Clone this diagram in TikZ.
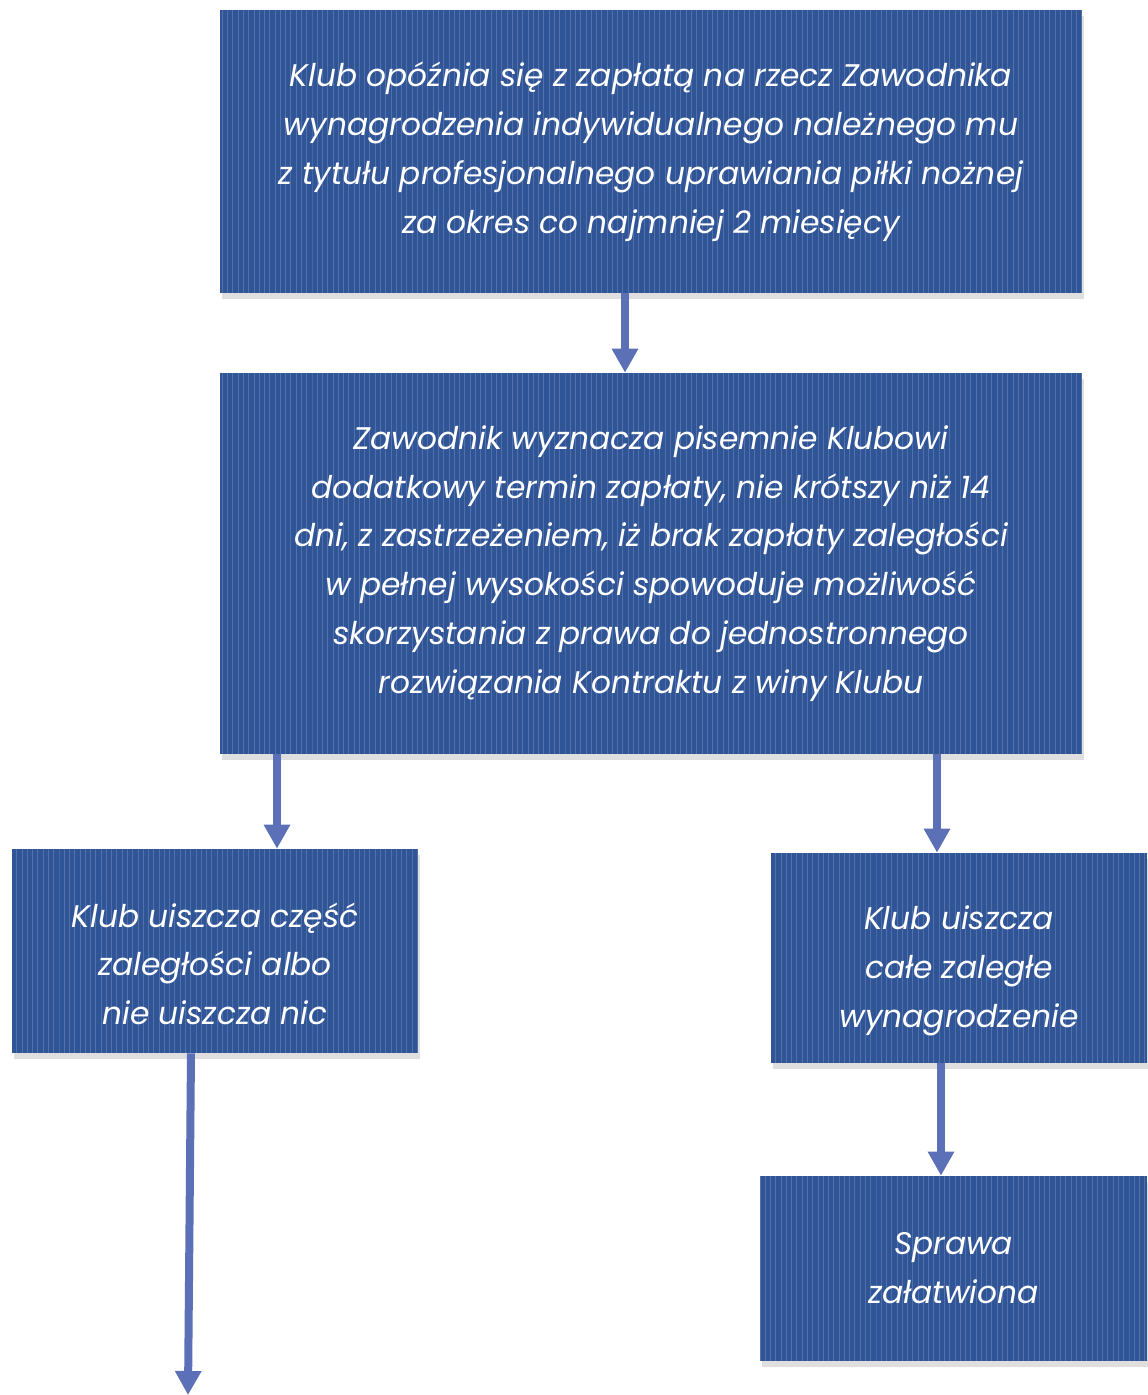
\documentclass[tikz,border=0pt]{standalone}
\usepackage{fontspec}
\setmainfont{Poppins}
\usetikzlibrary{arrows.meta, positioning, shadows, patterns}
\definecolor{boxblue}{RGB}{47,85,151}
\definecolor{stripeblue}{RGB}{84,112,170}
\definecolor{arrowblue}{RGB}{91,112,182}
\tikzset{
  flowbox/.style={rectangle, fill=boxblue, text=white, align=center,
    inner sep=0pt, font=\fontsize{17.8}{27.8}\selectfont\itshape,
    drop shadow={shadow xshift=0.04cm, shadow yshift=-0.12cm, opacity=0.25},
    postaction={pattern=vertical lines, pattern color=stripeblue}},
  flowarrow/.style={-{Triangle[width=0.5cm, length=0.48cm]},
    line width=0.16cm, color=arrowblue}
}
\newcommand{\lowstrut}{\rule{0pt}{1.0cm}}

\begin{document}
\begin{tikzpicture}[x=0.02cm, y=-0.02cm]
  \useasboundingbox (0,0) rectangle (1147,1395);

  % Top boxes
  \node[flowbox, minimum width=17.24cm, minimum height=5.66cm] (delay) at (651,151.5)
    {Klub opóźnia się z zapłatą na rzecz Zawodnika\\
     wynagrodzenia indywidualnego należnego mu\\
     z tytułu profesjonalnego uprawiania piłki nożnej\\
     za okres co najmniej 2 miesięcy};
  \node[flowbox, minimum width=17.24cm, minimum height=7.62cm] (notice) at (651,563.5)
    {Zawodnik wyznacza pisemnie Klubowi\\
     dodatkowy termin zapłaty, nie krótszy niż 14\\
     dni, z zastrzeżeniem, iż brak zapłaty zaległości\\
     w pełnej wysokości spowoduje możliwość\\
     skorzystania z prawa do jednostronnego\\
     rozwiązania Kontraktu z winy Klubu};

  % Branches
  \node[flowbox, minimum width=8.12cm, minimum height=4.08cm] (partial) at (215,951)
    {\lowstrut Klub uiszcza część\\zaległości albo\\nie uiszcza nic};
  \node[flowbox, minimum width=7.52cm, minimum height=4.2cm] (full) at (959,958)
    {\lowstrut Klub uiszcza\\całe zaległe\\wynagrodzenie};
  \node[flowbox, minimum width=7.74cm, minimum height=3.7cm] (done) at (953.5,1268.5)
    {Sprawa\\załatwiona};
  \coordinate (cont) at (188,1395);

  % Arrows
  \draw[flowarrow] (delay.south -| 625,0) -- (notice.north -| 625,0);
  \draw[flowarrow] (notice.south -| 277,0) -- (partial.north -| 277,0);
  \draw[flowarrow] (notice.south -| 937,0) -- (full.north -| 937,0);
  \draw[flowarrow] (full.south -| 941,0) -- (done.north -| 941,0);
  \draw[flowarrow] (partial.south -| 191,0) -- (cont);
\end{tikzpicture}
\end{document}
